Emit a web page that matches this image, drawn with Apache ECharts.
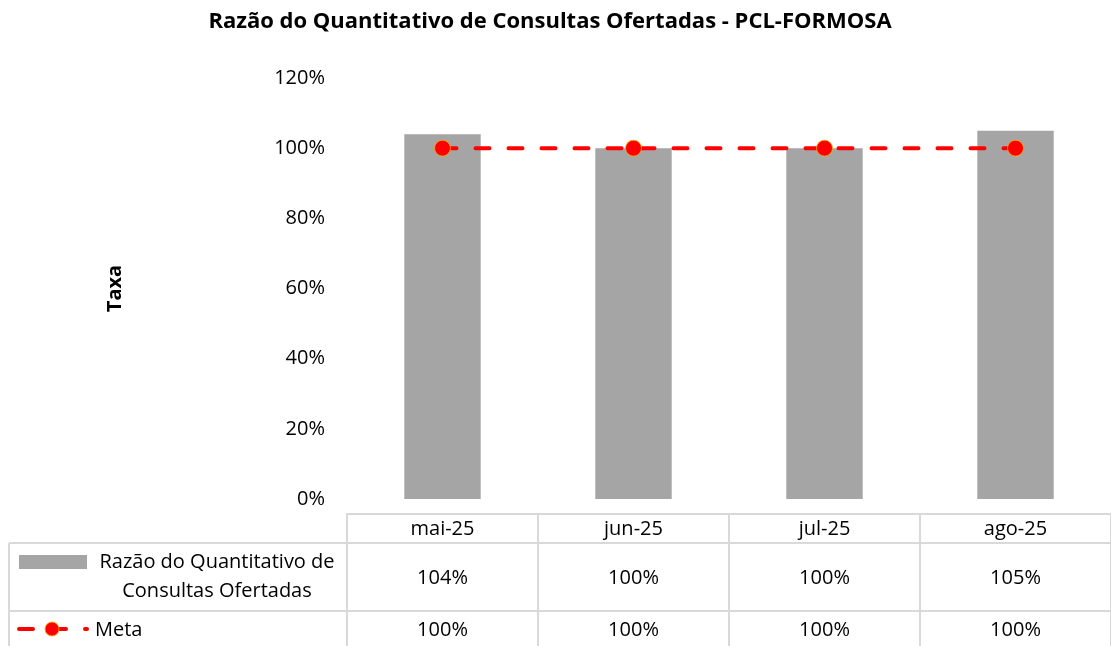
<!DOCTYPE html>
<html>
<head>
<meta charset="utf-8">
<title>Razão do Quantitativo de Consultas Ofertadas - PCL-FORMOSA</title>
<script src="https://cdn.jsdelivr.net/npm/echarts@6/dist/echarts.min.js"></script>
<style>
  html, body { margin: 0; padding: 0; background: #fff; }
  #chart { width: 1111px; height: 646px; }
</style>
</head>
<body>
<div id="chart"></div>
<script>
// Chart data
const chartTitle = 'Razão do Quantitativo de Consultas Ofertadas - PCL-FORMOSA';
const yAxisName = 'Taxa';
const months = ['mai-25', 'jun-25', 'jul-25', 'ago-25'];
const razaoName = 'Razão do Quantitativo de Consultas Ofertadas';
const razaoLegendLines = ['Razão do Quantitativo de', 'Consultas Ofertadas'];
const razao = [1.04, 1.00, 1.00, 1.05];
const metaName = 'Meta';
const meta = [1.00, 1.00, 1.00, 1.00];
const yMin = 0, yMax = 1.2, yStep = 0.2;

const pct = v => Math.round(v * 100) + '%';

// Styling / layout
const FONT = '"Open Sans", "Liberation Sans", sans-serif';
const TXT = '#000000';
const BAR = '#a5a5a5';
const RED = '#ff0000';
const RING = '#ffb000';
const LINE = '#d9d9d9';
const FS = 20;

const W = 1111, H = 646;
const gridLeft = 347, gridTop = 78, gridBottomY = 499;
const tableTop = 514, row1Top = 543, row2Top = 611, tableLeft = 9;

const chart = echarts.init(document.getElementById('chart'), null, { renderer: 'canvas' });

// extra category axes that print the data-table rows under each month
const valueRowAxis = (data, margin) => ({
  type: 'category',
  data: data,
  position: 'bottom',
  gridIndex: 0,
  axisLine: { show: false },
  axisTick: { show: false },
  splitLine: { show: false },
  axisLabel: { margin: margin, fontSize: FS, color: TXT, fontFamily: FONT, interval: 0 }
});

const option = {
  animation: false,
  backgroundColor: '#ffffff',
  title: {
    text: chartTitle,
    left: 545,
    top: 6,
    textAlign: 'center',
    textStyle: { fontFamily: FONT, fontWeight: 'bold', fontSize: 22, color: TXT }
  },
  grid: { left: gridLeft, right: 0, top: gridTop, bottom: H - gridBottomY, containLabel: false },
  xAxis: [
    {
      type: 'category',
      data: months,
      position: 'bottom',
      offset: tableTop - gridBottomY,
      boundaryGap: true,
      axisLine: { show: true, onZero: false, lineStyle: { color: LINE, width: 2 } },
      axisTick: { show: true, interval: 0, alignWithLabel: false, length: H - tableTop, lineStyle: { color: LINE, width: 2 } },
      splitLine: { show: false },
      axisLabel: { margin: 5, fontSize: FS, color: TXT, fontFamily: FONT, interval: 0 }
    },
    valueRowAxis(razao.map(pct), 69),
    valueRowAxis(meta.map(pct), 121)
  ],
  yAxis: {
    type: 'value',
    min: yMin,
    max: yMax,
    interval: yStep,
    name: yAxisName,
    nameLocation: 'middle',
    nameRotate: 90,
    nameGap: 222,
    nameTextStyle: { fontFamily: FONT, fontWeight: 'bold', fontSize: FS, color: TXT },
    axisLine: { show: false },
    axisTick: { show: false },
    splitLine: { show: false },
    axisLabel: { margin: 22, fontSize: FS, color: TXT, fontFamily: FONT, formatter: v => pct(v) }
  },
  series: [
    {
      name: razaoName,
      type: 'bar',
      data: razao,
      barWidth: '40%',
      itemStyle: { color: BAR },
      z: 2
    },
    {
      name: metaName,
      type: 'line',
      data: meta,
      symbol: 'circle',
      symbolSize: 16,
      itemStyle: { color: RED, borderColor: RING, borderWidth: 0.8 },
      lineStyle: { color: RED, width: 4, type: [14, 19], cap: 'round' },
      z: 3
    }
  ],
  graphic: [
    // data table rules
    { type: 'line', shape: { x1: tableLeft, y1: row1Top, x2: W, y2: row1Top }, style: { stroke: LINE, lineWidth: 2 }, silent: true },
    { type: 'line', shape: { x1: tableLeft, y1: row2Top, x2: W, y2: row2Top }, style: { stroke: LINE, lineWidth: 2 }, silent: true },
    { type: 'line', shape: { x1: tableLeft, y1: row1Top, x2: tableLeft, y2: H }, style: { stroke: LINE, lineWidth: 2 }, silent: true },
    // legend key: bars
    { type: 'rect', shape: { x: 19, y: 555, width: 68, height: 14 }, style: { fill: BAR }, silent: true },
    {
      type: 'text', x: 217, y: 577,
      style: {
        text: razaoLegendLines.join('\n'), fill: TXT, font: FS + 'px ' + FONT,
        textAlign: 'center', textVerticalAlign: 'middle', lineHeight: 29
      },
      silent: true
    },
    // legend key: target line
    { type: 'line', shape: { x1: 19, y1: 629, x2: 87, y2: 629 }, style: { stroke: RED, lineWidth: 4, lineDash: [14, 19], lineCap: 'round' }, silent: true },
    { type: 'circle', shape: { cx: 52, cy: 629, r: 7 }, style: { fill: RED, stroke: RING, lineWidth: 0.8 }, silent: true },
    {
      type: 'text', x: 95, y: 630,
      style: { text: metaName, fill: TXT, font: FS + 'px ' + FONT, textAlign: 'left', textVerticalAlign: 'middle' },
      silent: true
    }
  ]
};

chart.setOption(option);
</script>
</body>
</html>
